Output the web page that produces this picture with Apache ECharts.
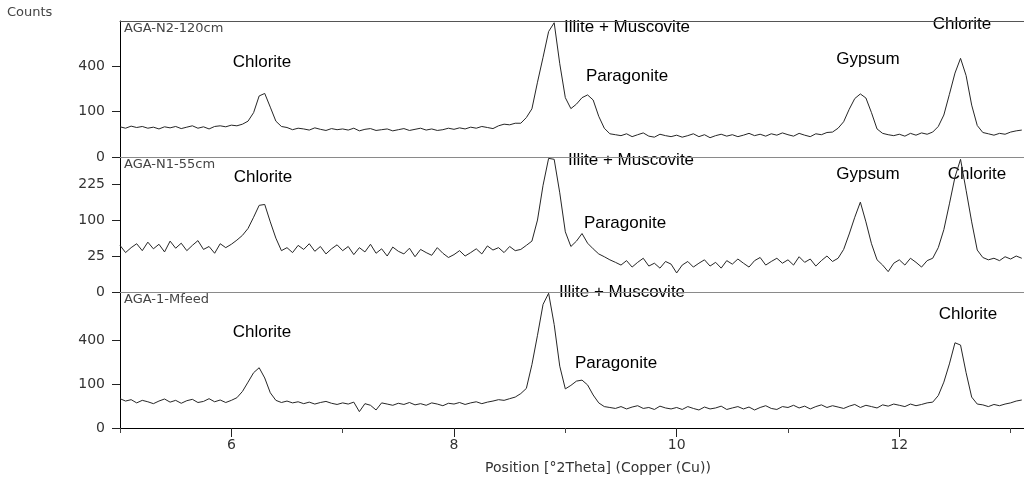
<!DOCTYPE html>
<html><head><meta charset="utf-8">
<script src="https://cdn.jsdelivr.net/npm/echarts@6/dist/echarts.min.js"></script>
<style>html,body{margin:0;padding:0;background:#fff}#c{width:1024px;height:482px}</style>
</head><body><div id="c"></div>
<script>
// 2Theta positions (degrees)
const positions = [
 5.00,5.05,5.10,5.15,5.20,5.25,5.30,5.35,5.40,5.45,
 5.50,5.55,5.60,5.65,5.70,5.75,5.80,5.85,5.90,5.95,
 6.00,6.05,6.10,6.15,6.20,6.25,6.30,6.35,6.40,6.45,
 6.50,6.55,6.60,6.65,6.70,6.75,6.80,6.85,6.90,6.95,
 7.00,7.05,7.10,7.15,7.20,7.25,7.30,7.35,7.40,7.45,
 7.50,7.55,7.60,7.65,7.70,7.75,7.80,7.85,7.90,7.95,
 8.00,8.05,8.10,8.15,8.20,8.25,8.30,8.35,8.40,8.45,
 8.50,8.55,8.60,8.65,8.70,8.75,8.80,8.85,8.90,8.95,
 9.00,9.05,9.10,9.15,9.20,9.25,9.30,9.35,9.40,9.45,
 9.50,9.55,9.60,9.65,9.70,9.75,9.80,9.85,9.90,9.95,
 10.00,10.05,10.10,10.15,10.20,10.25,10.30,10.35,10.40,10.45,
 10.50,10.55,10.60,10.65,10.70,10.75,10.80,10.85,10.90,10.95,
 11.00,11.05,11.10,11.15,11.20,11.25,11.30,11.35,11.40,11.45,
 11.50,11.55,11.60,11.65,11.70,11.75,11.80,11.85,11.90,11.95,
 12.00,12.05,12.10,12.15,12.20,12.25,12.30,12.35,12.40,12.45,
 12.50,12.55,12.60,12.65,12.70,12.75,12.80,12.85,12.90,12.95,
 13.00,13.05,13.10
];
// Counts, AGA-N2-120cm
const countsN2 = [
 44,40,46,42,45,40,43,38,44,41,
 45,39,43,47,40,44,38,45,47,44,
 49,47,52,62,95,180,195,120,62,45,
 42,36,40,38,35,41,37,34,39,36,
 38,35,40,33,37,39,34,36,38,33,
 36,39,34,37,40,35,38,34,36,40,
 37,41,38,43,40,45,42,39,47,52,
 50,55,55,75,112,270,480,760,870,420,
 170,113,135,170,186,157,80,40,26,24,
 22,26,20,24,28,21,19,25,22,20,
 23,19,22,26,20,24,18,22,25,21,
 24,20,23,27,22,25,21,26,23,28,
 24,21,27,23,20,26,24,29,30,40,
 60,110,165,192,168,95,38,27,24,22,
 25,21,27,23,28,25,30,45,85,190,
 340,470,320,130,48,29,26,23,27,25,
 30,33,35
];
// Counts, AGA-N1-55cm
const countsN1 = [
 42,30,38,45,33,48,36,44,31,50,
 37,46,33,42,51,35,40,29,45,38,
 44,52,62,78,108,145,148,95,56,33,
 38,30,42,35,45,32,40,28,36,43,
 33,40,27,38,31,44,29,36,25,39,
 32,28,37,24,35,30,26,38,29,23,
 27,33,25,30,36,28,41,34,38,30,
 40,33,35,42,50,100,220,345,340,190,
 70,40,50,66,46,36,28,24,20,17,
 14,19,12,17,22,13,16,11,18,15,
 7,14,18,12,16,20,13,17,11,19,
 15,21,16,12,19,23,14,18,22,16,
 20,14,24,17,21,13,19,25,18,22,
 35,65,108,156,95,45,20,14,8,16,
 20,14,22,17,12,19,22,38,75,150,
 255,340,200,95,34,23,20,22,19,24,
 21,25,22
];
// Counts, AGA-1-Mfeed
const countsFeed = [
 45,38,42,33,40,36,31,38,44,35,
 40,32,39,43,34,37,45,36,41,34,
 40,48,70,110,160,190,131,65,40,34,
 38,33,36,31,35,30,34,37,32,29,
 33,30,35,14,31,27,17,33,30,27,
 32,29,34,28,31,27,33,30,26,32,
 30,34,29,33,36,31,35,38,42,40,
 45,50,62,82,210,450,800,950,560,200,
 80,95,115,120,97,57,33,24,22,20,
 24,19,23,26,20,22,18,25,21,19,
 22,18,24,20,17,23,19,21,25,18,
 21,24,19,23,17,22,26,20,18,24,
 22,27,21,25,19,24,28,22,26,23,
 20,25,29,22,27,24,21,28,25,30,
 27,24,30,26,29,33,35,55,110,215,
 380,360,160,50,30,28,24,29,26,30,
 33,38,41
];
const sampleNames = ['AGA-N2-120cm', 'AGA-N1-55cm', 'AGA-1-Mfeed'];
const sampleCounts = [countsN2, countsN1, countsFeed];
const yTickCounts = [[0, 100, 400], [0, 25, 100, 225], [0, 100, 400]];
const yMaxCounts = [893, 352, 968];
const xMajorTicks = [6, 8, 10, 12];
const xMinorTicks = [5, 7, 9, 11, 13];
const xMin = 5, xMax = 13.12;
const peakNames = [
 ['Chlorite', 'Illite + Muscovite', 'Paragonite', 'Gypsum', 'Chlorite'],
 ['Chlorite', 'Illite + Muscovite', 'Paragonite', 'Gypsum', 'Chlorite'],
 ['Chlorite', 'Illite + Muscovite', 'Paragonite', 'Chlorite']
];

// layout (pixels) kept separate from data
const gridTops = [21, 157, 292];
const gridHeights = [136, 135, 136];
const peakLabelPos = [
 [[262, 62], [627, 27], [627, 76], [868, 59], [962, 24]],
 [[263, 177], [631, 160], [625, 223], [868, 174], [977, 174]],
 [[262, 332], [622, 292], [616, 363], [968, 314]]
];

const chart = echarts.init(document.getElementById('c'), null, {renderer: 'canvas'});
const smallFont = 'DejaVu Sans';
const grids = [], xAxes = [], yAxes = [], series = [], graphics = [];

for (let i = 0; i < 3; i++) {
  grids.push({left: 120, right: 0, top: gridTops[i], height: gridHeights[i], outerBoundsMode: 'none', containLabel: false});
  const isLast = i === 2;
  xAxes.push({
    type: 'value', gridIndex: i, min: xMin, max: xMax, position: 'bottom',
    show: isLast,
    axisLine: {show: isLast, lineStyle: {color: '#000', width: 1}},
    axisTick: {show: isLast, customValues: xMajorTicks, length: 9, lineStyle: {color: '#222'}},
    axisLabel: {show: isLast, customValues: xMajorTicks, margin: 10, color: '#333', fontSize: 14, fontFamily: smallFont},
    splitLine: {show: false}
  });
  xAxes.push({
    type: 'value', gridIndex: i, min: xMin, max: xMax, position: 'top',
    axisLine: {show: true, lineStyle: {color: i === 0 ? '#555' : '#8a8a8a', width: 1}},
    axisTick: {show: false}, axisLabel: {show: false}, splitLine: {show: false}
  });
  const ys = yTickCounts[i].map(v => Math.sqrt(v));
  yAxes.push({
    type: 'value', gridIndex: i, min: 0, max: Math.sqrt(yMaxCounts[i]),
    axisLine: {show: true, lineStyle: {color: '#000', width: 1}},
    axisTick: {show: true, customValues: ys, length: 8, lineStyle: {color: '#222'}},
    axisLabel: {show: true, customValues: ys, margin: 15, color: '#333', fontSize: 14, fontFamily: smallFont,
      formatter: v => String(Math.round(v * v))},
    splitLine: {show: false}
  });
  series.push({
    type: 'line', xAxisIndex: i * 2, yAxisIndex: i, showSymbol: false, symbol: 'none',
    lineStyle: {color: '#262626', width: 1}, animation: false, silent: true,
    data: positions.map((x, j) => [x, Math.sqrt(sampleCounts[i][j])])
  });
  graphics.push({type: 'text', x: 124, y: gridTops[i] + 8,
    style: {text: sampleNames[i], fill: '#444', font: '13px "DejaVu Sans"', align: 'left', verticalAlign: 'middle'}});
  peakNames[i].forEach((name, k) => {
    graphics.push({type: 'text', x: peakLabelPos[i][k][0], y: peakLabelPos[i][k][1],
      style: {text: name, fill: '#000', font: '17px "Liberation Sans"', align: 'center', verticalAlign: 'middle'}});
  });
}
xAxes.push({
  type: 'value', gridIndex: 2, min: xMin, max: xMax, position: 'bottom',
  axisLine: {show: false}, axisTick: {show: true, customValues: xMinorTicks, length: 5, lineStyle: {color: '#444'}},
  axisLabel: {show: false}, splitLine: {show: false}
});

graphics.push({type: 'text', x: 7, y: 13,
  style: {text: 'Counts', fill: '#444', font: '13px "DejaVu Sans"', align: 'left', verticalAlign: 'middle'}});
graphics.push({type: 'text', x: 598, y: 468,
  style: {text: 'Position [°2Theta] (Copper (Cu))', fill: '#333', font: '14px "DejaVu Sans"', align: 'center', verticalAlign: 'middle'}});

chart.setOption({
  animation: false,
  backgroundColor: '#fff',
  grid: grids, xAxis: xAxes, yAxis: yAxes, series: series, graphic: graphics
});
</script>
</body></html>
